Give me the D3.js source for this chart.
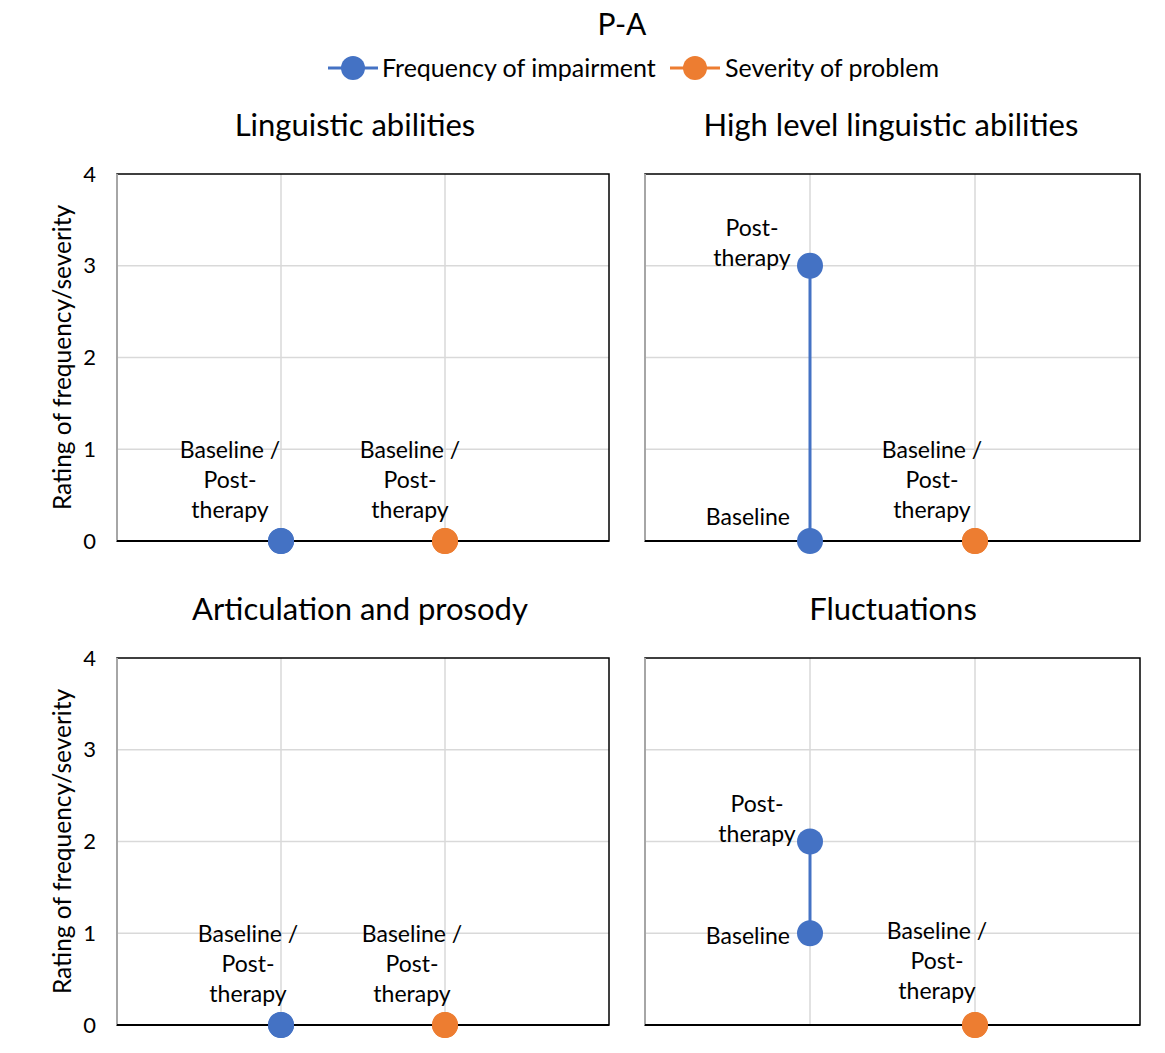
<!DOCTYPE html>
<html>
<head>
<meta charset="utf-8">
<script src="https://cdn.jsdelivr.net/npm/d3@7"></script>
<style>
  body { margin: 0; background: #fff; }
  text { font-family: Lato, "Open Sans", sans-serif; fill: #000; }
</style>
</head>
<body>
<div id="chart"></div>
<script>
// data
const chartTitle = "P-A";
const seriesNames = ["Frequency of impairment", "Severity of problem"];
const seriesColors = ["#4472C4", "#ED7D31"];
const panelTitles = ["Linguistic abilities", "High level linguistic abilities", "Articulation and prosody", "Fluctuations"];
const freqBaseline = [0, 0, 0, 1];
const freqPost = [0, 3, 0, 2];
const sevBaseline = [0, 0, 0, 0];
const sevPost = [0, 0, 0, 0];
const yTicks = [0, 1, 2, 3, 4];
const yLabel = "Rating of frequency/severity";

// layout: plot areas for each panel
const W = 1165, H = 1053;
const plots = [
  { x: 117, y: 174, w: 492, h: 367, titleX: 355, showY: true },
  { x: 645, y: 174, w: 495, h: 367, titleX: 891, showY: false },
  { x: 117, y: 658, w: 492, h: 367, titleX: 360, showY: true },
  { x: 645, y: 658, w: 495, h: 367, titleX: 893, showY: false }
];
// manual label nudges (dx of centered label, per panel/series), like the source chart
const sameLabelDx = [[-51, -35], [0, -43], [-33, -33], [0, -38]];

const svg = d3.select("#chart").append("svg")
  .attr("width", W).attr("height", H);

// chart title
svg.append("text").attr("x", 622).attr("y", 35)
  .attr("text-anchor", "middle").style("font-size", "30px").text(chartTitle);

// legend
const legendItems = [{ x: 328, tx: 382 }, { x: 670, tx: 725 }];
legendItems.forEach((l, i) => {
  const g = svg.append("g");
  g.append("line").attr("x1", l.x).attr("x2", l.x + 50).attr("y1", 68).attr("y2", 68)
    .attr("stroke", seriesColors[i]).attr("stroke-width", 3);
  g.append("circle").attr("cx", l.x + 25).attr("cy", 68).attr("r", 12).attr("fill", seriesColors[i]);
  g.append("text").attr("x", l.tx).attr("y", 77).style("font-size", "25px").text(seriesNames[i]);
});

plots.forEach((p, i) => {
  const g = svg.append("g").attr("transform", `translate(${p.x},${p.y})`);
  const x = d3.scaleLinear().domain([0, 3]).range([0, p.w]);
  const y = d3.scaleLinear().domain([0, 4]).range([p.h, 0]);

  // title
  svg.append("text").attr("x", p.titleX).attr("y", p.y - 38)
    .attr("text-anchor", "middle").style("font-size", "31px").text(panelTitles[i]);

  // gridlines
  g.selectAll(".hg").data(yTicks.slice(1, 4)).join("line")
    .attr("x1", 0).attr("x2", p.w).attr("y1", d => y(d)).attr("y2", d => y(d))
    .attr("stroke", "#d9d9d9").attr("stroke-width", 1.5);
  g.selectAll(".vg").data([1, 2]).join("line")
    .attr("y1", 0).attr("y2", p.h).attr("x1", d => x(d)).attr("x2", d => x(d))
    .attr("stroke", "#d9d9d9").attr("stroke-width", 1.5);

  // border
  g.append("rect").attr("width", p.w).attr("height", p.h)
    .attr("fill", "none").attr("stroke", "#000").attr("stroke-width", 1.5);
  g.append("line").attr("x1", 0).attr("x2", 0).attr("y1", 0).attr("y2", p.h)
    .attr("stroke", "#a6a6a6").attr("stroke-width", 2);
  g.append("line").attr("x1", 0).attr("x2", p.w).attr("y1", p.h).attr("y2", p.h)
    .attr("stroke", "#000").attr("stroke-width", 2);

  // y axis
  if (p.showY) {
    const ax = g.append("g").call(d3.axisLeft(y).tickValues(yTicks).tickFormat(d3.format("d")).tickSize(0).tickPadding(21));
    ax.select(".domain").remove();
    ax.selectAll("text").style("font-size", "22px").style("font-family", "Lato, sans-serif").attr("fill", "#000");
    svg.append("text")
      .attr("transform", `translate(${p.x - 46},${p.y + p.h / 2}) rotate(-90)`)
      .attr("text-anchor", "middle").style("font-size", "24.5px").text(yLabel);
  }

  const series = [
    { xv: 1, base: freqBaseline[i], post: freqPost[i], color: seriesColors[0] },
    { xv: 2, base: sevBaseline[i], post: sevPost[i], color: seriesColors[1] }
  ];

  series.forEach((s, si) => {
    const cx = x(s.xv);
    g.append("line").attr("x1", cx).attr("x2", cx)
      .attr("y1", y(s.base)).attr("y2", y(s.post))
      .attr("stroke", s.color).attr("stroke-width", 3);
    g.selectAll(null).data([s.base, s.post]).join("circle")
      .attr("cx", cx).attr("cy", d => y(d)).attr("r", 13).attr("fill", s.color);

    if (s.base === s.post) {
      const lines = ["Baseline /", "Post-", "therapy"];
      const dx = sameLabelDx[i][si];
      const top = y(s.base) - 83 - (i === 3 ? 3 : 0);
      g.selectAll(null).data(lines).join("text")
        .attr("x", cx + dx).attr("y", (d, k) => top + k * 30)
        .attr("text-anchor", "middle").style("font-size", "23px").text(d => d);
    } else {
      // baseline label to the left
      const by = y(s.base) - (s.base === 0 ? 24 : -3);
      g.append("text").attr("x", cx - 20).attr("y", by + 8)
        .attr("text-anchor", "end").style("font-size", "23px").text("Baseline");
      // post-therapy label above-left
      const py = y(s.post);
      const pcx = cx - (i === 1 ? 58 : 53);
      g.selectAll(null).data(["Post-", "therapy"]).join("text")
        .attr("x", pcx).attr("y", (d, k) => py - 30 + k * 30)
        .attr("text-anchor", "middle").style("font-size", "23px").text(d => d);
    }
  });
});
</script>
</body>
</html>
